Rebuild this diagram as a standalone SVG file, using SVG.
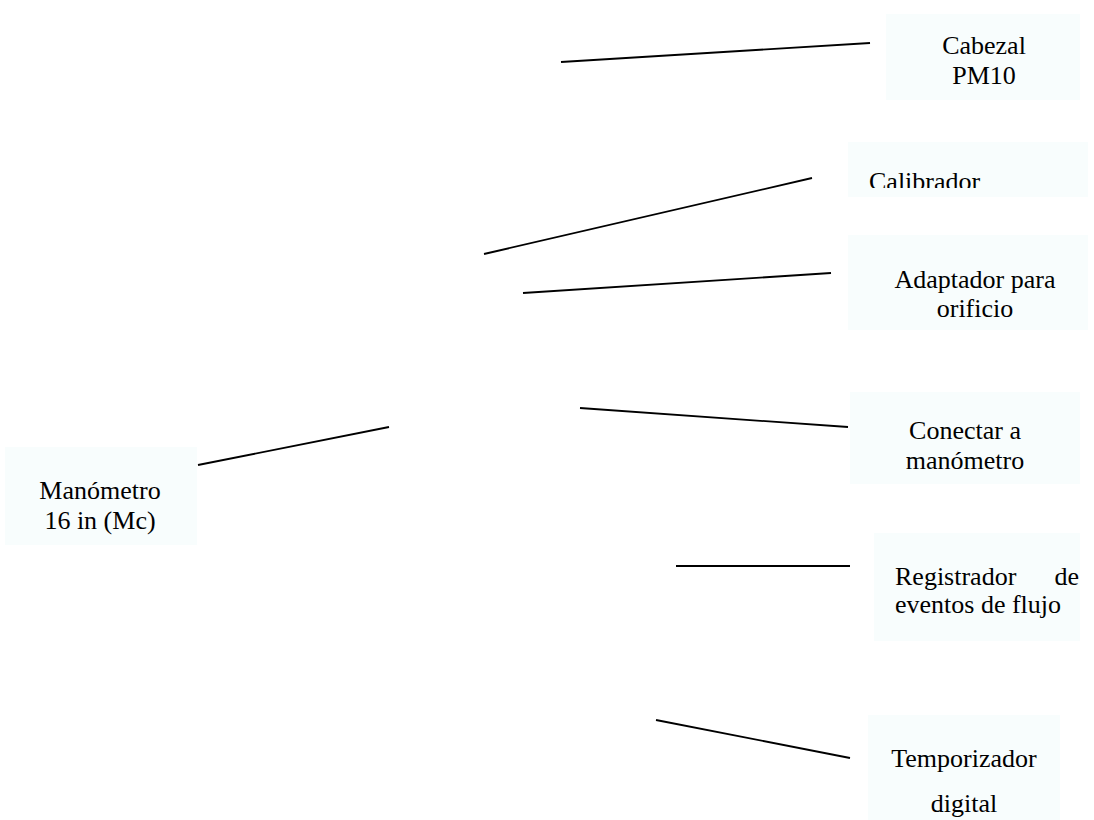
<svg xmlns="http://www.w3.org/2000/svg" width="1094" height="820" viewBox="0 0 1094 820">
  <style>
    .box { fill: #f8fdfd; stroke: none; }
    .lbl { font-family: "Liberation Serif", "Times New Roman", serif; font-size: 26px; fill: #000; }
    .mid { text-anchor: middle; }
    .end { text-anchor: end; }
    .conn line { stroke: #000; stroke-width: 1.8; }
  </style>
  <defs>
    <!-- the Calibrador frame cuts its label off at the bottom -->
    <clipPath id="clipCal"><rect x="848" y="142" width="240" height="46"/></clipPath>
  </defs>
  <rect width="1094" height="820" fill="#fff"/>

  <g id="cabezal">
    <rect class="box" x="886" y="14" width="194" height="86"/>
    <text class="lbl mid" x="984" y="54">Cabezal</text>
    <text class="lbl mid" x="984" y="84">PM10</text>
  </g>

  <g id="calibrador">
    <rect class="box" x="848" y="142" width="240" height="55"/>
    <text class="lbl" x="869" y="190" clip-path="url(#clipCal)">Calibrador</text>
  </g>

  <g id="adaptador">
    <rect class="box" x="848" y="235" width="240" height="95"/>
    <text class="lbl mid" x="975" y="288">Adaptador para</text>
    <text class="lbl mid" x="975" y="317">orificio</text>
  </g>

  <g id="conectar">
    <rect class="box" x="850" y="392" width="230" height="92"/>
    <text class="lbl mid" x="965" y="439">Conectar a</text>
    <text class="lbl mid" x="965" y="469">manómetro</text>
  </g>

  <g id="registrador">
    <rect class="box" x="874" y="533" width="206" height="108"/>
    <text class="lbl" x="895" y="585">Registrador</text>
    <text class="lbl end" x="1079" y="585">de</text>
    <text class="lbl" x="895" y="613">eventos de flujo</text>
  </g>

  <g id="temporizador">
    <rect class="box" x="868" y="715" width="192" height="105"/>
    <text class="lbl mid" x="964" y="767">Temporizador</text>
    <text class="lbl mid" x="964" y="812">digital</text>
  </g>

  <g id="manometro">
    <rect class="box" x="5" y="447" width="192" height="98"/>
    <text class="lbl mid" x="100" y="499">Manómetro</text>
    <text class="lbl mid" x="100" y="529">16 in (Mc)</text>
  </g>

  <g id="connectors" class="conn">
    <line x1="561" y1="62" x2="870" y2="43"/>
    <line x1="484" y1="254" x2="812" y2="178"/>
    <line x1="523" y1="293" x2="831" y2="273"/>
    <line x1="198" y1="465" x2="389" y2="427"/>
    <line x1="580" y1="408" x2="848" y2="427"/>
    <line x1="676" y1="566" x2="850" y2="566"/>
    <line x1="656" y1="720" x2="850" y2="758"/>
  </g>
</svg>
